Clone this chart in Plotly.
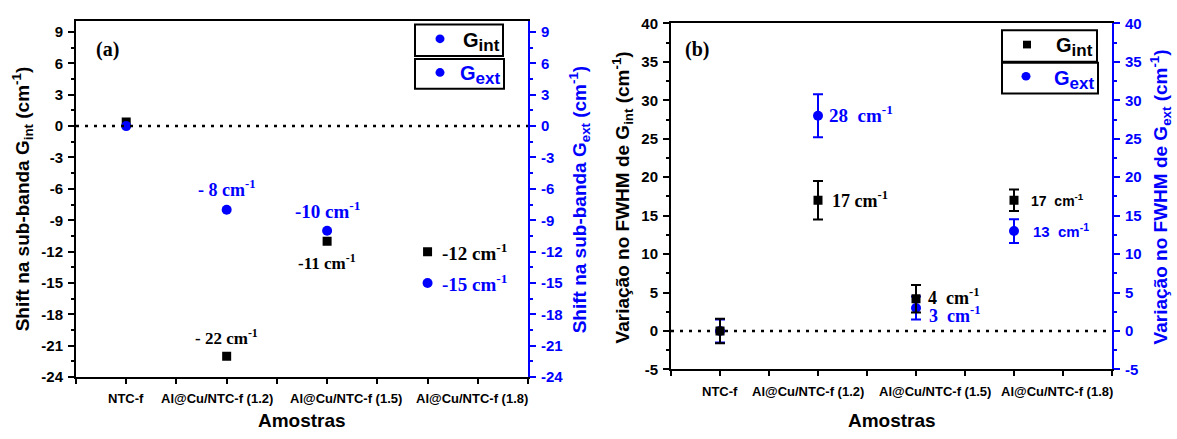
import plotly.graph_objects as go

# ---------------- data ----------------
categories = ["NTC-f", "Al@Cu/NTC-f (1.2)", "Al@Cu/NTC-f (1.5)", "Al@Cu/NTC-f (1.8)"]

shift_gint = [0.4, -22, -11, -12]
shift_gext = [0, -8, -10, -15]
shift_gint_labels = ["", "- 22 cm<sup>-1</sup>", "-11 cm<sup>-1</sup>", "-12 cm<sup>-1</sup>"]
shift_gext_labels = ["", "- 8 cm<sup>-1</sup>", "-10 cm<sup>-1</sup>", "-15 cm<sup>-1</sup>"]

fwhm_gint = [0, 17, 4.2, 17]
fwhm_gint_err = [1.6, 2.5, 1.8, 1.4]
fwhm_gext = [0, 28, 3, 13]
fwhm_gext_err = [1.5, 2.8, 1.5, 1.55]
fwhm_gint_labels = ["", "17 cm<sup>-1</sup>", "4\u00a0\u00a0cm<sup>-1</sup>", "17\u00a0\u00a0cm<sup>-1</sup>"]
fwhm_gext_labels = ["", "28\u00a0\u00a0cm<sup>-1</sup>", "3\u00a0\u00a0cm<sup>-1</sup>", "13\u00a0\u00a0cm<sup>-1</sup>"]

shift_ticks = [-24, -21, -18, -15, -12, -9, -6, -3, 0, 3, 6, 9]
fwhm_ticks = [-5, 0, 5, 10, 15, 20, 25, 30, 35, 40]

# ---------------- layout constants ----------------
W, H = 1177, 439
BLUE = "#0000ff"
SANS = "Liberation Sans, Arial, sans-serif"
SERIF = "Liberation Serif, Times New Roman, serif"
xs = list(range(len(categories)))
label_pos = [0.0, 0.9, 2.19, 3.44]


def px(x):
    return x / W


def py(y):
    return 1 - y / H


fig = go.Figure()

# ---- panel (a) ----
fig.add_trace(go.Scatter(x=xs, y=shift_gint, mode="markers", xaxis="x", yaxis="y",
                         marker=dict(symbol="square", size=9, color="black"),
                         showlegend=False, name="G_int"))
fig.add_trace(go.Scatter(x=xs, y=shift_gext, mode="markers", xaxis="x", yaxis="y2",
                         marker=dict(symbol="circle", size=10, color=BLUE),
                         showlegend=False, name="G_ext"))

# ---- panel (b) ----
fig.add_trace(go.Scatter(x=xs, y=fwhm_gext, mode="markers", xaxis="x2", yaxis="y3",
                         marker=dict(symbol="circle", size=10, color=BLUE),
                         error_y=dict(type="data", array=fwhm_gext_err, color=BLUE,
                                      thickness=2, width=5),
                         showlegend=False, name="G_ext"))
fig.add_trace(go.Scatter(x=xs, y=fwhm_gint, mode="markers", xaxis="x2", yaxis="y4",
                         marker=dict(symbol="square", size=9, color="black"),
                         error_y=dict(type="data", array=fwhm_gint_err, color="black",
                                      thickness=2, width=5),
                         showlegend=False, name="G_int"))

xcommon = dict(range=[-0.5, 4], showline=True, linecolor="black", linewidth=2,
               mirror=True, showgrid=False, zeroline=False,
               tickmode="array", tickvals=[-0.5, 0, 0.5, 1, 1.5, 2, 2.5, 3, 3.5, 4],
               ticks="outside", ticklen=5, tickwidth=2, tickcolor="black",
               showticklabels=False)


def ycommon(rng, ticks, color, side):
    step = ticks[1] - ticks[0]
    return dict(range=rng, tickmode="array", tickvals=ticks,
                ticktext=[f"<b>{v}</b>" for v in ticks],
                showline=True, linecolor=color,
                linewidth=2, showgrid=False, zeroline=False, side=side,
                ticks="outside", ticklen=6, tickwidth=2, tickcolor=color,
                tickfont=dict(family=SANS, size=15, color=color),
                minor=dict(dtick=step / 2, tick0=0, ticks="outside", ticklen=3,
                           tickwidth=2, tickcolor=color),
                ticklabelstandoff=2)


dom_a_x = [px(76), px(528)]
dom_a_y = [py(383), py(13)]
dom_b_x = [px(671), px(1112)]
dom_b_y = [py(375), py(15)]

fig.update_layout(
    width=W, height=H, autosize=False,
    margin=dict(l=0, r=0, t=0, b=0),
    paper_bgcolor="white", plot_bgcolor="white",
    showlegend=False,
    xaxis=dict(domain=dom_a_x, anchor="y", **xcommon),
    yaxis=dict(domain=dom_a_y, anchor="x", **ycommon([-24, 10], shift_ticks, "black", "left")),
    yaxis2=dict(overlaying="y", anchor="x", **ycommon([-24, 10], shift_ticks, BLUE, "right")),
    xaxis2=dict(domain=dom_b_x, anchor="y3", **xcommon),
    yaxis3=dict(domain=dom_b_y, anchor="x2", **ycommon([-5, 40], fwhm_ticks, BLUE, "right")),
    yaxis4=dict(overlaying="y3", anchor="x2", **ycommon([-5, 40], fwhm_ticks, "black", "left")),
)

# zero reference lines
for xr, yr in (("x", "y"), ("x2", "y3")):
    fig.add_shape(type="line", xref=f"{xr} domain", yref=yr, x0=0, x1=1, y0=0, y1=0,
                  line=dict(color="black", width=2.5, dash="3px,6px"))

ann = []


def add_text(text, x, y, xref="x", yref="y", size=18, color="black", family=SERIF,
             xanchor="center", yanchor="middle", angle=0):
    ann.append(dict(text=f"<b>{text}</b>", x=x, y=y, xref=xref, yref=yref, showarrow=False,
                    xanchor=xanchor, yanchor=yanchor, textangle=angle,
                    font=dict(family=family, size=size, color=color)))


# panel labels
add_text("(a)", -0.19, 7.3, "x", "y", size=20)
add_text("(b)", -0.23, 36.6, "x2", "y3", size=20)

# panel (a) value labels
add_text(shift_gext_labels[1], 1, -6.0, "x", "y", color=BLUE, size=18)
add_text(shift_gext_labels[2], 2, -8.0, "x", "y", color=BLUE, size=19)
add_text(shift_gint_labels[2], 2, -13.0, "x", "y", size=17)
add_text(shift_gint_labels[3], 3.12, -12.0, "x", "y", xanchor="left", size=19)
add_text(shift_gext_labels[3], 3.12, -15.0, "x", "y", color=BLUE, xanchor="left", size=19)
add_text(shift_gint_labels[1], 1, -20.2, "x", "y", size=17)

# panel (b) value labels
add_text(fwhm_gext_labels[1], 1.09, 28.2, "x2", "y3", color=BLUE, xanchor="left", size=19)
add_text(fwhm_gint_labels[1], 1.12, 17.1, "x2", "y3", xanchor="left", size=18)
add_text(fwhm_gint_labels[2], 2.10, 4.5, "x2", "y3", xanchor="left", size=18)
add_text(fwhm_gext_labels[2], 2.11, 2.1, "x2", "y3", color=BLUE, xanchor="left", size=18)
add_text(fwhm_gint_labels[3], 3.15, 17.1, "x2", "y3", xanchor="left", family=SANS, size=14)
add_text(fwhm_gext_labels[3], 3.17, 13.1, "x2", "y3", color=BLUE, xanchor="left", family=SANS, size=15)

# category labels
for xr, ypix in (("x", 405), ("x2", 398)):
    for lab, pos in zip(categories, label_pos):
        add_text(lab, pos, py(ypix), xr, "paper", size=13, family=SANS)

# axis titles
add_text("Amostras", px(302), py(428), "paper", "paper", size=19, family=SANS)
add_text("Amostras", px(892), py(428), "paper", "paper", size=19, family=SANS)
add_text("Shift na sub-banda G<sub>int</sub> (cm<sup>-1</sup>)", px(22), py(198), "paper", "paper",
         size=19, family=SANS, angle=-90)
add_text("Shift na sub-banda G<sub>ext</sub> (cm<sup>-1</sup>)", px(579), py(198), "paper", "paper",
         size=19, family=SANS, color=BLUE, angle=-90)
add_text("Variação no FWHM de G<sub>int</sub> (cm<sup>-1</sup>)", px(622), py(196), "paper", "paper",
         size=19, family=SANS, angle=-90)
add_text("Variação no FWHM de G<sub>ext</sub> (cm<sup>-1</sup>)", px(1160), py(196), "paper", "paper",
         size=19, family=SANS, color=BLUE, angle=-90)

# legends (boxes drawn as shapes)
shapes = []


def box(x0, x1, y0, y1):
    shapes.append(dict(type="rect", xref="paper", yref="paper", x0=px(x0), x1=px(x1),
                       y0=py(y1), y1=py(y0), line=dict(color="black", width=2),
                       fillcolor="white", layer="above"))


def dot(cx, cy, r, color, kind="circle"):
    shapes.append(dict(type="circle" if kind == "circle" else "rect", xref="paper", yref="paper",
                       x0=px(cx - r), x1=px(cx + r), y0=py(cy + r), y1=py(cy - r),
                       line=dict(width=0), fillcolor=color, layer="above"))


def leg_text(sub):
    return f'G<sub><span style="font-size:17px">{sub}</span></sub>'


# legend (a)
box(415, 503, 16, 49)
box(415, 504, 52, 83)
dot(440, 31, 4.5, BLUE)
dot(440, 66, 4.5, BLUE)
add_text(leg_text("int"), px(502), py(34), "paper", "paper", size=20, family=SANS,
         xanchor="right")
add_text(leg_text("ext"), px(502), py(69), "paper", "paper", size=20, family=SANS,
         color=BLUE, xanchor="right")

# legend (b)
box(1002, 1097, 22, 55)
box(1002, 1098, 56, 88)
dot(1027, 37, 4, "black", kind="square")
dot(1026, 70, 4.5, BLUE)
add_text(leg_text("int"), px(1095), py(40), "paper", "paper", size=20, family=SANS,
         xanchor="right")
add_text(leg_text("ext"), px(1096), py(74), "paper", "paper", size=20, family=SANS,
         color=BLUE, xanchor="right")

fig.update_layout(annotations=ann)
for s in shapes:
    fig.add_shape(**s)

fig.write_html("out.html")
